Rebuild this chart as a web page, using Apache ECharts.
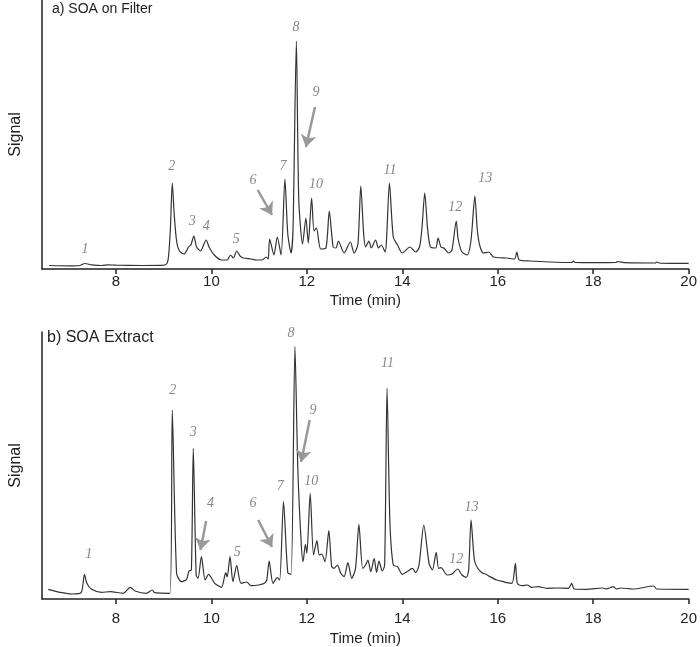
<!DOCTYPE html>
<html>
<head>
<meta charset="utf-8">
<script src="https://cdn.jsdelivr.net/npm/echarts@6/dist/echarts.min.js"></script>
<style>html,body{margin:0;padding:0;background:#fff}#c{width:700px;height:647px}</style>
</head>
<body>
<div id="c"></div>
<script>
// ---- Data (retention time in min, signal in arbitrary units) ----
const timesA = [6.60,7.07,7.24,7.35,7.49,7.70,7.84,8.00,8.54,8.96,9.06,9.10,9.14,9.18,9.22,9.27,9.33,9.43,9.52,9.57,9.63,9.69,9.77,9.89,9.95,10.06,10.21,10.33,10.40,10.46,10.53,10.60,10.67,10.83,10.94,11.06,11.15,11.19,11.22,11.31,11.38,11.46,11.54,11.60,11.67,11.71,11.78,11.83,11.91,11.98,12.03,12.10,12.15,12.20,12.29,12.40,12.47,12.55,12.61,12.66,12.78,12.91,12.99,13.07,13.13,13.19,13.23,13.30,13.35,13.44,13.50,13.56,13.64,13.67,13.73,13.81,13.90,14.00,14.16,14.28,14.36,14.41,14.47,14.53,14.59,14.70,14.75,14.81,14.87,14.97,15.04,15.13,15.17,15.25,15.36,15.44,15.52,15.57,15.62,15.70,15.81,15.91,16.19,16.35,16.40,16.45,16.68,17.10,17.55,17.58,17.62,18.02,18.48,18.50,18.68,19.30,19.33,19.40,20.00];
const signalA = [3.5,3.2,3.5,5.5,4.2,3.5,4.2,3.8,3.5,3.6,5,12,40,86,55,28,18,15,22,24,33,22,18,29,22,14,9,9,14,11,18,13,11,10,9,9,12,10,30,14,32,14,90,35,16,40,228,70,25,51,26,71,38,41,20,21,58,22,21,28,16,27,16,25,83,35,22,28,21,29,21,24,17,30,86,32,24,16,22,17,22,40,76,40,22,21,31,22,21,16,19,48,30,17,14,29,73,40,24,16,17,12,11,10,17,9,8,7,6.5,8,6.5,6.3,6.5,7.5,6.3,6,7,5.8,5.7];

const timesB = [6.58,6.87,7.08,7.27,7.34,7.39,7.49,7.70,7.88,8.15,8.30,8.40,8.64,8.76,8.81,9.13,9.18,9.27,9.37,9.48,9.53,9.58,9.62,9.68,9.72,9.79,9.87,9.94,10.07,10.21,10.30,10.33,10.39,10.45,10.53,10.62,10.74,10.83,10.99,11.11,11.16,11.21,11.29,11.38,11.43,11.51,11.60,11.67,11.75,11.81,11.88,11.92,11.97,12.00,12.07,12.14,12.21,12.26,12.31,12.38,12.46,12.52,12.57,12.64,12.71,12.78,12.86,12.94,13.02,13.09,13.17,13.23,13.28,13.34,13.41,13.46,13.51,13.58,13.63,13.68,13.74,13.81,13.90,14.00,14.10,14.21,14.28,14.35,14.45,14.56,14.63,14.71,14.76,14.81,14.94,15.04,15.16,15.25,15.34,15.39,15.44,15.51,15.58,15.67,15.74,15.81,15.98,16.12,16.19,16.30,16.37,16.41,16.51,16.62,16.71,16.85,17.03,17.24,17.48,17.55,17.60,17.86,18.20,18.28,18.42,18.49,18.57,18.83,19.27,19.33,20.00];
const signalB = [9.7,6.3,5,6.3,24.7,15.7,9.7,6.7,7.3,5.7,11.7,8,5.7,9,6.3,5.7,189,25.7,17.3,19.7,28,29,150.7,24,20.7,42.3,19,24.7,15.7,11.7,26.3,22,42.3,17.3,33.3,15.7,17,13.3,14,15.7,19,38,15.7,21.3,19,97.3,26.3,24.7,252.3,131,57,37.3,54.7,45.7,105.7,44,58.3,44,45,37.3,68.3,32.3,30.7,34,25.7,22.3,36.3,20.7,30.7,74.7,30.7,34,39,27.3,40.7,26.7,38,28,34,210.7,77,34,32.3,24.7,27.3,30.7,26.3,34,74,35.7,29,46.7,30.7,31.3,24,25,30,24,21.7,29,79,39,30.7,26.3,25,23,19,17.3,16.3,15.7,35.7,15.7,13.3,14,11.7,12.3,10.7,11,10.7,15.7,10,9.7,11,10,12.3,10,11,10,13,10,9.7];

const xTicks = [8, 10, 12, 14, 16, 18, 20];

const peakNames = ['1','2','3','4','5','6','7','8','9','10','11','12','13'];
const labelPosA = [[7.35,20],[9.17,103],[9.60,48],[9.89,43],[10.52,30],[10.87,89],[11.50,103],[11.77,242],[12.19,177],[12.19,85],[13.74,99],[15.11,62],[15.74,91]];
const labelPosB = [[7.43,45],[9.19,209],[9.62,167],[9.98,96],[10.54,47],[10.87,96],[11.44,113],[11.67,266],[12.13,189],[12.09,118],[13.69,236],[15.13,40],[15.45,92]];
const arrowsA = [[[10.97,79],[11.27,54]],[[12.17,162],[11.98,122]]];
const arrowsB = [[[9.89,78],[9.77,49]],[[10.98,79],[11.27,52]],[[12.06,179],[11.88,137]]];

// ---- Chart ----
const chart = echarts.init(document.getElementById('c'), null, {renderer: 'canvas'});
const FONT = 'Liberation Sans, Arial, sans-serif';
const zip = (a, b) => a.map((v, i) => [v, b[i]]);

function xAxis(gi, labelMargin, nameGap) {
  return {
    type: 'value', gridIndex: gi, min: 6.45, max: 20,
    name: 'Time (min)', nameLocation: 'middle', nameGap: nameGap,
    nameTextStyle: {fontFamily: FONT, fontSize: 15, color: '#222'},
    axisLine: {show: true, lineStyle: {color: '#222', width: 1.5}},
    axisTick: {show: true, length: 5, inside: false, customValues: xTicks, lineStyle: {color: '#222', width: 1.5}},
    axisLabel: {customValues: xTicks, fontFamily: FONT, fontSize: 15, color: '#222', margin: labelMargin},
    splitLine: {show: false}
  };
}
function yAxis(gi, max) {
  return {
    type: 'value', gridIndex: gi, min: 0, max: max,
    name: 'Signal', nameLocation: 'middle', nameGap: 18,
    nameTextStyle: {fontFamily: FONT, fontSize: 16, color: '#222'},
    axisLine: {show: true, lineStyle: {color: '#222', width: 1.5}},
    axisTick: {show: false}, axisLabel: {show: false}, splitLine: {show: false}
  };
}
function labels(pos) {
  return {
    symbol: 'circle', symbolSize: 2, silent: true, animation: false,
    itemStyle: {color: 'rgba(0,0,0,0)'},
    label: {show: true, position: 'inside', formatter: p => p.name,
      fontFamily: 'Liberation Serif, Times New Roman, serif', fontStyle: 'italic', fontSize: 14, color: '#888'},
    data: pos.map((c, i) => ({name: peakNames[i], coord: c}))
  };
}
function arrows(list) {
  return {
    silent: true, animation: false, symbol: ['none', 'arrow'], symbolSize: 12,
    lineStyle: {color: '#999', width: 2.5, type: 'solid'},
    itemStyle: {color: '#999'},
    label: {show: false},
    data: list.map(s => [{coord: s[0]}, {coord: s[1]}])
  };
}
function series(gi, t, s, pos, arr) {
  return {
    type: 'line', xAxisIndex: gi, yAxisIndex: gi, data: zip(t, s),
    showSymbol: false, symbol: 'none', smooth: 0.25, animation: false,
    lineStyle: {color: '#333', width: 1.2},
    markPoint: labels(pos), markLine: arrows(arr)
  };
}

chart.setOption({
  animation: false,
  backgroundColor: '#fff',
  title: [
    {text: 'a) SOA on Filter', left: 52, top: 2, padding: 0, textStyle: {fontFamily: FONT, fontSize: 14, fontWeight: 'normal', color: '#222'}},
    {text: 'b) SOA Extract', left: 47, top: 330, padding: 0, textStyle: {fontFamily: FONT, fontSize: 16, fontWeight: 'normal', color: '#222'}}
  ],
  grid: [
    {left: 40, right: 11, top: 0, height: 269},
    {left: 40, right: 11, top: 332, height: 267}
  ],
  xAxis: [xAxis(0, 5, 24), xAxis(1, 12, 32)],
  yAxis: [yAxis(0, 269), yAxis(1, 267)],
  series: [
    series(0, timesA, signalA, labelPosA, arrowsA),
    series(1, timesB, signalB, labelPosB, arrowsB)
  ]
});
</script>
</body>
</html>
